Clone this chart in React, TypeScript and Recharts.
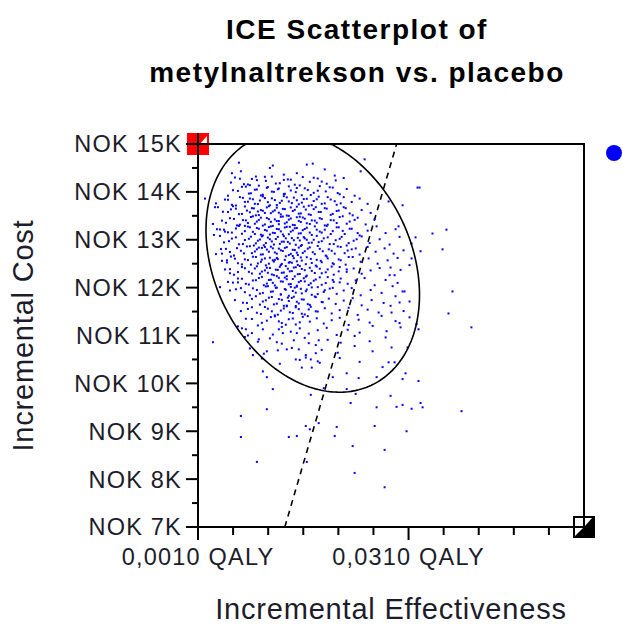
import React from 'react';
import {
  ScatterChart,
  Scatter,
  XAxis,
  YAxis,
  ReferenceLine,
  ReferenceArea,
  ReferenceDot,
  Legend,
} from 'recharts';

// ---------- axes ----------
const effectTicks = [0.001, 0.006, 0.011, 0.016, 0.021, 0.026, 0.031, 0.036, 0.041, 0.046, 0.051, 0.056];
const effectLabelTicks = [0.001, 0.031];
const effectDomain = [0.001, 0.056];
const costTicks = [7000, 7500, 8000, 8500, 9000, 9500, 10000, 10500, 11000, 11500, 12000, 12500, 13000, 13500, 14000, 14500, 15000];
const costLabelTicks = [7000, 8000, 9000, 10000, 11000, 12000, 13000, 14000, 15000];
const costDomain = [7000, 15000];

// ---------- titles ----------
const titleLines = ['ICE Scatterplot of', 'metylnaltrekson vs. placebo'];
const xTitle = 'Incremental Effectiveness';
const yTitle = 'Incremental Cost';

// ---------- willingness-to-pay line (endpoints) ----------
const wtpSegment = [
  { x: 0.01337, y: 7000 },
  { x: 0.0293, y: 15000 },
];

// ---------- confidence ellipse parameters ----------
const ellipseCenter = { x: 0.01735, y: 12528 };
const ellipseHalfX = 0.01521;
const ellipseHalfY = 2712;
const ellipseCorr = -0.25;

// ---------- simulated (effect, cost) pairs ----------
const cloudUpper: [number, number][] = [
  [0.00683,14610],[0.01166,14550],[0.0165,14570],[0.01735,14590],[0.02474,14680],
  [0.00711,14430],[0.00583,14390],[0.01508,14390],[0.00925,14320],[0.02418,14430],[0.01124,14500],[0.01323,14360],[0.01906,14470],[0.02048,14340],
  [0.00626,14300],[0.00754,14160],[0.00868,14270],[0.00967,14130],[0.01067,14230],[0.01152,14320],[0.01266,14180],[0.0138,14260],[0.01479,14150],[0.01593,14310],[0.01693,14210],[0.01806,14280],[0.01934,14170],[0.02062,14240],[0.02176,14290],[0.00839,14140],[0.01323,14250],
  [0.00527,13920],[0.00669,14020],[0.00782,14110],[0.00854,13970],[0.00939,14050],[0.01024,13940],[0.01095,14100],[0.01181,14000],[0.01252,14070],[0.01337,13960],[0.01422,14030],[0.01508,14080],[0.01579,13930],[0.01664,14040],[0.01749,13980],[0.01835,14120],[0.0192,14010],[0.0202,14090],[0.02119,13950],[0.02219,14060],[0.02332,13920],[0.03228,14090],[0.03257,14090],
  [0.00356,13760],[0.00484,13840],[0.00583,13730],[0.00697,13890],[0.00768,13790],[0.00839,13860],[0.0091,13750],[0.00982,13820],[0.01053,13870],[0.01124,13720],[0.01195,13830],[0.01266,13770],[0.01323,13910],[0.01394,13800],[0.01465,13880],[0.01536,13740],[0.01607,13850],[0.01678,13710],[0.01749,13810],[0.0182,13900],[0.01906,13760],[0.01991,13840],[0.02076,13730],[0.02176,13890],[0.0229,13790],[0.02403,13860],[0.02517,13750],[0.02816,13800],[0.03015,13720],
  [0.00384,13680],[0.00527,13580],[0.0064,13650],[0.00726,13540],[0.00797,13610],[0.00868,13660],[0.00925,13510],[0.00996,13620],[0.01053,13560],[0.0111,13700],[0.01166,13590],[0.01223,13670],[0.0128,13530],[0.01337,13640],[0.01394,13500],[0.01451,13600],[0.01508,13690],[0.01565,13550],[0.01636,13630],[0.01707,13520],[0.01778,13680],[0.01849,13580],[0.01934,13650],[0.0202,13540],[0.02105,13610],[0.02204,13660],[0.02304,13510],[0.02432,13620],[0.0256,13560],[0.00598,13700],[0.00953,13590],
  [0.00313,13330],[0.00441,13400],[0.00555,13450],[0.00655,13300],[0.0074,13410],[0.00811,13350],[0.00882,13490],[0.00939,13380],[0.00996,13460],[0.01053,13320],[0.0111,13430],[0.01166,13290],[0.01223,13390],[0.0128,13480],[0.01337,13340],[0.01394,13420],[0.01451,13310],[0.01508,13470],[0.01565,13370],[0.01621,13440],[0.01693,13330],[0.01764,13400],[0.01835,13450],[0.01906,13300],[0.01991,13410],[0.02076,13350],[0.02162,13490],[0.02261,13380],[0.02375,13460],[0.02489,13320],[0.02617,13430],[0.00768,13290],[0.01252,13390],[0.0155,13480],
  [0.00327,13100],[0.0047,13210],[0.00583,13150],[0.00683,13290],[0.00768,13180],[0.00839,13260],[0.0091,13120],[0.00967,13230],[0.01024,13090],[0.01081,13190],[0.01138,13280],[0.01195,13140],[0.01252,13220],[0.01309,13110],[0.01365,13270],[0.01422,13170],[0.01479,13240],[0.01536,13130],[0.01593,13200],[0.0165,13250],[0.01721,13100],[0.01792,13210],[0.01863,13150],[0.01934,13290],[0.0202,13180],[0.02105,13260],[0.0219,13120],[0.0229,13230],[0.02403,13090],[0.02517,13190],[0.02645,13280],[0.02773,13140],[0.02915,13220],[0.03441,13130],[0.0364,13210],[0.01124,13110],[0.01408,13270],
  [0.00413,13080],[0.00541,12970],[0.0064,13050],[0.0074,12910],[0.00825,13020],[0.00896,12880],[0.00953,12980],[0.0101,13070],[0.01067,12930],[0.01124,13010],[0.01181,12900],[0.01237,13060],[0.01294,12960],[0.01351,13030],[0.01408,12920],[0.01465,12990],[0.01522,13040],[0.01579,12890],[0.0165,13000],[0.01721,12940],[0.01792,13080],[0.01863,12970],[0.01948,13050],[0.02034,12910],[0.02119,13020],[0.02219,12880],[0.02318,12980],[0.02432,13070],[0.02546,12930],[0.02688,13010],[0.0283,12900],[0.02972,13060],[0.032,13050],[0.03143,12920],[0.01323,12960],[0.01621,13030],
  [0.00356,12700],[0.00498,12810],[0.00612,12670],[0.00711,12770],[0.00797,12860],[0.00868,12720],[0.00939,12800],[0.00996,12690],[0.01053,12850],[0.0111,12750],[0.01166,12820],[0.01223,12710],[0.0128,12780],[0.01337,12830],[0.01394,12680],[0.01451,12790],[0.01508,12730],[0.01565,12870],[0.01621,12760],[0.01693,12840],[0.01764,12700],[0.01835,12810],[0.0192,12670],[0.02005,12770],[0.02091,12860],[0.0219,12720],[0.0229,12800],[0.02403,12690],[0.02517,12850],[0.02631,12750],[0.02759,12820],[0.02887,12710],[0.03029,12780],[0.03271,12760],[0.03584,12800],[0.0101,12830],[0.01522,12680],
];

const cloudLower: [number, number][] = [
  [0.00441,12560],[0.00569,12650],[0.00669,12510],[0.00768,12590],[0.00854,12480],[0.00925,12640],[0.00996,12540],[0.01053,12610],[0.0111,12500],[0.01166,12570],[0.01223,12620],[0.0128,12470],[0.01337,12580],[0.01394,12520],[0.01451,12660],[0.01508,12550],[0.01565,12630],[0.01636,12490],[0.01707,12600],[0.01778,12460],[0.01849,12560],[0.01934,12650],[0.0202,12510],[0.02105,12590],[0.02204,12480],[0.02304,12640],[0.02418,12540],[0.02531,12610],[0.02659,12500],[0.02802,12570],[0.02944,12620],[0.03114,12470],[0.01195,12580],[0.01437,12520],
  [0.00484,12380],[0.00612,12270],[0.00726,12430],[0.00825,12330],[0.0091,12400],[0.00982,12290],[0.01053,12360],[0.01124,12410],[0.01181,12260],[0.01237,12370],[0.01294,12310],[0.01351,12450],[0.01408,12340],[0.01465,12420],[0.01522,12280],[0.01579,12390],[0.0165,12250],[0.01721,12350],[0.01792,12440],[0.01863,12300],[0.01948,12380],[0.02034,12270],[0.02119,12430],[0.02219,12330],[0.02318,12400],[0.02432,12290],[0.0256,12360],[0.02688,12410],[0.0283,12260],[0.02986,12370],[0.01095,12310],[0.0155,12450],
  [0.00527,12120],[0.00669,12190],[0.00782,12080],[0.00882,12150],[0.00967,12200],[0.01038,12050],[0.0111,12160],[0.01166,12100],[0.01223,12240],[0.0128,12130],[0.01337,12210],[0.01394,12070],[0.01451,12180],[0.01508,12040],[0.01565,12140],[0.01636,12230],[0.01707,12090],[0.01778,12170],[0.01863,12060],[0.01948,12220],[0.02034,12120],[0.02133,12190],[0.02233,12080],[0.02347,12150],[0.02474,12200],[0.02617,12050],[0.02773,12160],[0.02944,12100],[0.01365,12240],[0.01621,12130],
  [0.00555,11940],[0.00711,11990],[0.00839,11840],[0.00939,11950],[0.01024,11890],[0.01095,12030],[0.01166,11920],[0.01223,12000],[0.0128,11860],[0.01337,11970],[0.01394,11830],[0.01451,11930],[0.01508,12020],[0.01579,11880],[0.0165,11960],[0.01721,11850],[0.01806,12010],[0.01892,11910],[0.01977,11980],[0.02076,11870],[0.02176,11940],[0.0229,11990],[0.02418,11840],[0.0256,11950],[0.02716,11890],[0.02873,12030],[0.03043,11920],[0.03726,11920],[0.01479,12000],
  [0.00626,11740],[0.00797,11680],[0.00925,11820],[0.01024,11710],[0.0111,11790],[0.01181,11650],[0.01252,11760],[0.01323,11620],[0.01394,11720],[0.01465,11810],[0.01536,11670],[0.01607,11750],[0.01693,11640],[0.01778,11800],[0.01863,11700],[0.01963,11770],[0.02062,11660],[0.02176,11730],[0.02304,11780],[0.02432,11630],[0.02574,11740],[0.02745,11680],[0.02915,11820],[0.03114,11710],[0.0138,11790],
  [0.00711,11510],[0.00868,11590],[0.00996,11450],[0.01095,11560],[0.01195,11420],[0.0128,11520],[0.01365,11610],[0.01451,11470],[0.01536,11550],[0.01621,11440],[0.01707,11600],[0.01806,11500],[0.01906,11570],[0.02005,11460],[0.02119,11530],[0.02247,11580],[0.02375,11430],[0.02517,11540],[0.02674,11480],[0.02844,11620],[0.03029,11510],[0.01493,11590],[0.03669,11460],
  [0.00782,11350],[0.00953,11210],[0.01081,11310],[0.01195,11400],[0.01294,11260],[0.01394,11340],[0.01493,11230],[0.01593,11390],[0.01693,11290],[0.01792,11360],[0.01892,11250],[0.02005,11320],[0.02119,11370],[0.02247,11220],[0.02389,11330],[0.02546,11270],[0.02716,11410],[0.02915,11300],[0.03114,11380],[0.03214,11240],
  [0.00669,11190],[0.00868,11050],[0.01024,11130],[0.01166,11020],[0.01294,11180],[0.01422,11080],[0.0155,11150],[0.01678,11040],[0.01806,11110],[0.01934,11160],[0.02076,11010],[0.02233,11120],[0.02403,11060],[0.02588,11200],[0.02787,11090],[0.02986,11170],[0.03242,11130],[0.03996,11170],
  [0.00313,10860],[0.00768,10970],[0.00953,10870],[0.01124,10940],[0.01294,10830],[0.01465,10900],[0.01621,10950],[0.01778,10800],[0.01948,10910],[0.02133,10850],[0.02332,10990],[0.02546,10880],[0.02773,10960],[0.03086,10750],
  [0.00839,10730],[0.01038,10620],[0.01237,10690],[0.01437,10740],[0.01636,10590],[0.01863,10700],[0.02091,10640],[0.02332,10780],[0.02588,10670],[0.02858,10750],[0.00882,10590],
  [0.0101,10520],[0.01266,10410],[0.0155,10490],[0.01835,10430],[0.02119,10530],[0.02403,10450],[0.0273,10340],[0.02816,10440],[0.02901,10440],
];

// denser core, read between the rows above
const cloudCore: [number, number][] = [
  [0.00569,14195],[0.00697,14275],[0.00811,14155],[0.00939,14245],[0.01053,14315],[0.01209,14175],[0.01422,14255],[0.0155,14135],[0.01749,14295],[0.01863,14215],
  [0.00598,14035],[0.00726,14105],[0.00825,13965],[0.0091,14045],[0.00996,13925],[0.01081,14085],[0.01152,14005],[0.01237,14055],[0.01323,13955],[0.01394,14115],[0.01493,13995],[0.01621,14075],[0.01707,13935],[0.01806,14025],[0.01977,14095],[0.02091,13975],
  [0.00527,13835],[0.0064,13715],[0.0074,13875],[0.00811,13795],[0.00882,13845],[0.00953,13745],[0.01024,13905],[0.01095,13785],[0.01152,13865],[0.01223,13725],[0.01294,13815],[0.01365,13885],[0.01437,13765],[0.01508,13825],[0.01579,13775],[0.0165,13855],[0.01721,13720],[0.01792,13845],[0.01863,13750],[0.01948,13890],[0.02048,13805],[0.02133,13760],
  [0.00455,13585],[0.00569,13635],[0.00683,13535],[0.00768,13695],[0.00839,13575],[0.00896,13655],[0.00967,13515],[0.01024,13605],[0.01081,13675],[0.01138,13555],[0.01195,13615],[0.01252,13565],[0.01309,13645],[0.01365,13505],[0.01422,13675],[0.01479,13625],[0.01536,13545],[0.01607,13690],[0.01678,13530],[0.01749,13640],[0.0182,13580],[0.01906,13660],[0.01991,13520],[0.02076,13600],[0.02176,13680],[0.02261,13550],
  [0.00498,13355],[0.00612,13435],[0.00697,13315],[0.00782,13405],[0.00854,13475],[0.0091,13335],[0.00967,13415],[0.01024,13295],[0.01081,13455],[0.01138,13375],[0.01195,13425],[0.01252,13325],[0.01309,13485],[0.01365,13365],[0.01422,13445],[0.01479,13305],[0.01536,13395],[0.01593,13465],[0.0165,13345],[0.01721,13405],[0.01792,13355],[0.01863,13435],[0.01948,13315],[0.02034,13405],[0.02119,13475],[0.02219,13335],[0.02332,13415],
  [0.00413,13215],[0.00527,13155],[0.0064,13235],[0.00726,13125],[0.00811,13275],[0.00882,13165],[0.00939,13245],[0.00996,13105],[0.01053,13205],[0.0111,13265],[0.01166,13145],[0.01223,13225],[0.0128,13175],[0.01337,13255],[0.01394,13115],[0.01451,13195],[0.01508,13245],[0.01565,13135],[0.01621,13225],[0.01693,13150],[0.01764,13280],[0.01835,13170],[0.01906,13210],[0.01991,13120],[0.02076,13260],[0.02162,13185],[0.02261,13230],[0.02375,13140],
  [0.0047,12945],[0.00583,13025],[0.00683,12905],[0.00768,12995],[0.00854,13065],[0.00925,12925],[0.00982,13005],[0.01038,12885],[0.01095,13045],[0.01152,12965],[0.01209,13015],[0.01266,12915],[0.01323,13075],[0.0138,12955],[0.01437,13035],[0.01493,12895],[0.0155,12985],[0.01607,13055],[0.01678,12935],[0.01749,13000],[0.0182,12950],[0.01892,13030],[0.01977,12910],[0.02062,12990],[0.02147,13060],[0.02247,12930],[0.02361,13010],
  [0.00427,12805],[0.00555,12745],[0.00655,12825],[0.00754,12715],[0.00839,12865],[0.0091,12755],[0.00967,12835],[0.01024,12695],[0.01081,12795],[0.01138,12855],[0.01195,12735],[0.01252,12815],[0.01309,12765],[0.01365,12845],[0.01422,12705],[0.01479,12785],[0.01536,12835],[0.01593,12725],[0.01664,12815],[0.01735,12740],[0.01806,12870],[0.01877,12760],[0.01963,12800],[0.02048,12710],[0.02133,12850],[0.02233,12775],[0.02347,12820],
  [0.00512,12525],[0.00626,12605],[0.00726,12485],[0.00811,12575],[0.00882,12645],[0.00953,12505],[0.0101,12585],[0.01067,12465],[0.01124,12625],[0.01181,12545],[0.01237,12595],[0.01294,12495],[0.01351,12655],[0.01408,12535],[0.01465,12615],[0.01522,12475],[0.01579,12565],[0.0165,12635],[0.01721,12515],[0.01792,12580],[0.01863,12530],[0.01948,12610],[0.02034,12490],[0.02133,12570],[0.02247,12640],
  [0.00555,12385],[0.00669,12325],[0.00768,12405],[0.00868,12295],[0.00939,12445],[0.0101,12335],[0.01081,12415],[0.01152,12275],[0.01209,12375],[0.01266,12435],[0.01323,12315],[0.0138,12395],[0.01437,12345],[0.01493,12425],[0.0155,12285],[0.01621,12365],[0.01693,12415],[0.01764,12305],[0.01835,12395],[0.0192,12320],[0.02005,12440],[0.02105,12340],[0.02219,12380],
  [0.00598,12105],[0.00726,12185],[0.00825,12065],[0.00925,12155],[0.0101,12225],[0.01081,12085],[0.01138,12165],[0.01195,12045],[0.01252,12205],[0.01309,12125],[0.01365,12175],[0.01422,12075],[0.01479,12235],[0.01536,12115],[0.01607,12195],[0.01678,12055],[0.01749,12145],[0.01835,12215],[0.0192,12095],[0.0202,12160],[0.02119,12110],
  [0.0064,11965],[0.00768,11905],[0.00882,11985],[0.00982,11875],[0.01067,12025],[0.01138,11915],[0.01209,11995],[0.0128,11855],[0.01351,11955],[0.01422,12015],[0.01493,11895],[0.01565,11975],[0.01636,11925],[0.01721,12005],[0.01806,11865],[0.01906,11945],[0.0202,11995],
  [0.0074,11685],[0.00868,11765],[0.00982,11645],[0.01067,11735],[0.01152,11805],[0.01223,11665],[0.01294,11745],[0.01365,11625],[0.01437,11785],[0.01508,11705],[0.01579,11755],[0.01664,11655],[0.01764,11815],[0.01877,11695],
  [0.00811,11555],[0.00939,11475],[0.01053,11595],[0.01152,11505],[0.01237,11435],[0.01323,11565],[0.01408,11485],[0.01493,11615],[0.01579,11455],[0.01678,11545],[0.01778,11505],
  [0.00868,11345],[0.0101,11265],[0.01138,11385],[0.01252,11295],[0.01351,11225],[0.01451,11355],[0.0155,11275],[0.01664,11405],
];

const cloudEdges: [number, number][] = [
  [0.00967,10920],[0.01081,10670],[0.01365,10710],[0.01536,10710],[0.01493,10500],[0.01636,10540],[0.01707,10500],[0.01579,10330],[0.01721,10330],[0.01778,10630],[0.01806,10460],[0.00726,11150],[0.00782,11130],[0.00811,11000],[0.01252,11130],[0.01309,11050],[0.01223,10860],[0.01508,11050],[0.01678,10840],[0.0182,10900],
  [0.002,13860],[0.00342,13680],[0.0037,13220],[0.00484,13170],[0.00441,12710],[0.00512,12570],[0.00413,12010],[0.00555,12300],[0.00669,12110],
  [0.02958,13280],[0.03143,12610],[0.02844,12420],[0.02901,12260],[0.03015,11920],[0.02972,11690],[0.02858,11480],[0.02972,11260],
];

const outliers: [number, number][] = [
  [0.01024,10250],[0.01081,10130],[0.01166,9880],[0.01081,9460],[0.00711,9320],[0.00711,8880],[0.00939,8360],[0.01394,8880],[0.01508,8900],[0.01636,9110],[0.01693,9040],[0.0182,9170],[0.0165,8360],[0.01707,9760],[0.02076,9090],[0.02048,8900],[0.02304,8690],[0.02332,8130],[0.02275,9590],[0.02617,9110],[0.02759,8610],[0.02759,7830],[0.02645,9500],[0.02844,9740],[0.02929,9510],[0.03015,9550],[0.03143,9470],[0.03271,9590],[0.033,9500],[0.03072,9000],[0.03057,10210],[0.03015,10090],[0.03242,10050],[0.03855,9420],[0.02219,9880],[0.0202,10130],[0.01892,9900],[0.02219,10210],[0.02389,10110],[0.02645,10130],[0.02347,9780],
];

// ---------- derived tables ----------
const simulations = [...cloudUpper, ...cloudLower, ...cloudCore, ...cloudEdges, ...outliers].map(([x, y]) => ({ x, y }));

const ellipsePoints = Array.from({ length: 241 }, (_, i) => {
  const t = (i / 240) * 2 * Math.PI;
  const x = ellipseCenter.x + ellipseHalfX * Math.cos(t);
  const y =
    ellipseCenter.y +
    ellipseHalfY * (ellipseCorr * Math.cos(t) + Math.sqrt(1 - ellipseCorr * ellipseCorr) * Math.sin(t));
  return { x, y: Math.min(y, costDomain[1]) };
});

const FONT = '"Liberation Sans", Arial, sans-serif';
const TEXT_COLOR = '#1c1c2c';

const fmtEffect = (v: number) => v.toFixed(4).replace('.', ',') + ' QALY';
const fmtCost = (v: number) => `NOK ${v / 1000}K`;

const YTick = (props: any) => {
  const { x, y, payload } = props;
  const major = costLabelTicks.includes(payload.value);
  return (
    <g>
      <line x1={x - (major ? 12 : 6)} x2={x + 1} y1={y} y2={y} stroke="#000" strokeWidth={2} />
      {major && (
        <text x={x - 16} y={y} dy={8.4} textAnchor="end" fontFamily={FONT} fontSize={23.5} letterSpacing={1.2} fill={TEXT_COLOR}>
          {fmtCost(payload.value)}
        </text>
      )}
    </g>
  );
};

const XTick = (props: any) => {
  const { x, y, payload } = props;
  const major = effectLabelTicks.some((v) => Math.abs(v - payload.value) < 1e-9);
  return (
    <g>
      <line x1={x} x2={x} y1={y - 1} y2={y + (major ? 13 : 8)} stroke="#000" strokeWidth={2} />
      {major && (
        <text x={x} y={y + 38} textAnchor="middle" fontFamily={FONT} fontSize={23.5} letterSpacing={1.2} fill={TEXT_COLOR}>
          {fmtEffect(payload.value)}
        </text>
      )}
    </g>
  );
};

const YLabel = (props: any) => {
  const vb = props.viewBox || { x: 0, y: 144, width: 198, height: 383 };
  const cx = vb.x + 33;
  const cy = vb.y + vb.height / 2;
  return (
    <text x={cx} y={cy} transform={`rotate(-90 ${cx} ${cy})`} textAnchor="middle" fontFamily={FONT} fontSize={29} letterSpacing={0.8} fill={TEXT_COLOR}>
      {yTitle}
    </text>
  );
};

const XLabel = (props: any) => {
  const vb = props.viewBox || { x: 198, y: 527, width: 386, height: 60 };
  return (
    <text x={vb.x + vb.width / 2} y={vb.y + 92} textAnchor="middle" fontFamily={FONT} fontSize={29} letterSpacing={0.8} fill={TEXT_COLOR}>
      {xTitle}
    </text>
  );
};

const PointShape = (p: any) => <rect x={p.cx - 1} y={p.cy - 1} width={2} height={2} fill="#0000ff" />;
const NoShape = () => <g />;

const RedCorner = (p: any) => {
  const { cx, cy } = p;
  return (
    <g>
      <rect x={cx - 11} y={cy - 11} width={22} height={22} fill="#ff0000" />
      <polygon points={`${cx + 1},${cy + 1} ${cx + 9},${cy + 1} ${cx + 9},${cy - 8}`} fill="#ffffff" />
      <line x1={cx - 11} x2={cx + 11} y1={cy} y2={cy} stroke="#000" strokeWidth={2} />
      <line x1={cx} x2={cx} y1={cy - 11} y2={cy + 11} stroke="#000" strokeWidth={2} />
    </g>
  );
};

const BlackCorner = (p: any) => {
  const { cx, cy } = p;
  return (
    <g>
      <rect x={cx - 11} y={cy - 11} width={22} height={22} fill="#000" />
      <polygon points={`${cx - 9},${cy - 9} ${cx - 1},${cy - 9} ${cx - 1},${cy - 1} ${cx - 9},${cy - 1}`} fill="#fff" />
      <polygon points={`${cx + 1},${cy - 1} ${cx + 1},${cy - 9} ${cx + 8},${cy - 9}`} fill="#fff" />
      <polygon points={`${cx - 9},${cy + 1} ${cx - 1},${cy + 1} ${cx - 9},${cy + 9}`} fill="#fff" />
      <line x1={cx - 11} x2={cx} y1={cy} y2={cy} stroke="#000" strokeWidth={2} />
      <line x1={cx} x2={cx} y1={cy - 11} y2={cy} stroke="#000" strokeWidth={2} />
    </g>
  );
};

const LegendDot = () => (
  <div style={{ width: 16, height: 16, borderRadius: 8, background: '#0000ff' }} />
);

export default function App() {
  return (
    <div style={{ position: 'absolute', left: 0, top: 0, width: 623, height: 626, background: '#fff', overflow: 'hidden' }}>
      <ScatterChart width={623} height={626} margin={{ top: 144, right: 39, bottom: 39, left: 0 }}>
        <XAxis
          dataKey="x"
          type="number"
          domain={effectDomain}
          ticks={effectTicks}
          interval={0}
          allowDataOverflow
          axisLine={false}
          tickLine={false}
          tickSize={0}
          tickMargin={0}
          height={60}
          tick={<XTick />}
          label={<XLabel />}
        />
        <YAxis
          dataKey="y"
          type="number"
          domain={costDomain}
          ticks={costTicks}
          interval={0}
          allowDataOverflow
          axisLine={false}
          tickLine={false}
          tickSize={0}
          tickMargin={0}
          width={198}
          tick={<YTick />}
          label={<YLabel />}
        />
        <Legend
          layout="horizontal"
          verticalAlign="middle"
          align="center"
          content={<LegendDot />}
          wrapperStyle={{ position: 'absolute', left: 606, top: 145, width: 16, height: 16 }}
        />
        <ReferenceArea
          x1={effectDomain[0]}
          x2={effectDomain[1]}
          y1={costDomain[0]}
          y2={costDomain[1]}
          fill="none"
          stroke="#000"
          strokeWidth={2}
          ifOverflow="visible"
        />
        <Scatter name="metylnaltrekson vs. placebo" data={simulations} shape={PointShape} isAnimationActive={false} />
        <Scatter
          name="ellipse"
          data={ellipsePoints}
          shape={NoShape}
          line={{ stroke: '#000', strokeWidth: 1.6 }}
          lineJointType="linear"
          isAnimationActive={false}
          legendType="none"
        />
        <ReferenceLine segment={wtpSegment} stroke="#000" strokeWidth={1.6} strokeDasharray="6 5" />
        <ReferenceDot x={effectDomain[0]} y={costDomain[1]} r={11} shape={RedCorner} ifOverflow="visible" />
        <ReferenceDot x={effectDomain[1]} y={costDomain[0]} r={11} shape={BlackCorner} ifOverflow="visible" />
      </ScatterChart>
      {titleLines.map((line, i) => (
        <div
          key={i}
          style={{
            position: 'absolute',
            left: 91,
            width: 532,
            top: i === 0 ? 16 : 59,
            textAlign: 'center',
            fontFamily: FONT,
            fontWeight: 'bold',
            fontSize: 28,
            lineHeight: '28px',
            letterSpacing: 1.5,
            color: '#000',
            whiteSpace: 'nowrap',
          }}
        >
          {line}
        </div>
      ))}
    </div>
  );
}
